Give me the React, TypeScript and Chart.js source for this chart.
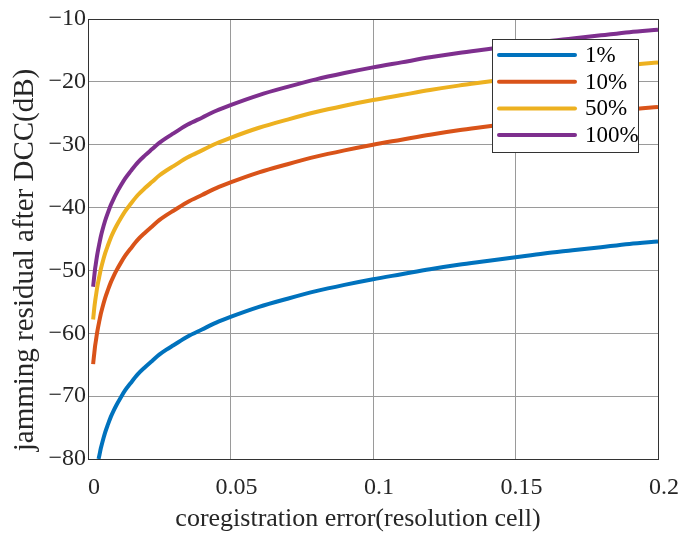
import React, { useEffect, useRef } from "react";
import { Chart, registerables } from "chart.js";

Chart.register(...registerables);

const seriesLabels = ["1%", "10%", "50%", "100%"];
const seriesColors = ["#0072BD", "#D95319", "#EDB120", "#7E2F8E"];

const xBlue = [0.0037, 0.004, 0.0045, 0.005, 0.006, 0.007, 0.008, 0.009, 0.01, 0.0115, 0.013, 0.015, 0.0175, 0.02, 0.0225, 0.025, 0.0275, 0.03, 0.035, 0.04, 0.045, 0.05, 0.06, 0.07, 0.08, 0.09, 0.1, 0.11, 0.12, 0.13, 0.14, 0.15, 0.16, 0.17, 0.18, 0.19, 0.2];
const yBlue = [-80.0, -79.4, -78.3, -77.4, -75.8, -74.5, -73.3, -72.3, -71.4, -70.2, -69.1, -67.9, -66.5, -65.4, -64.4, -63.4, -62.6, -61.9, -60.5, -59.4, -58.3, -57.4, -55.8, -54.5, -53.3, -52.3, -51.4, -50.6, -49.8, -49.1, -48.5, -47.9, -47.3, -46.8, -46.3, -45.8, -45.4];

const xOthers = [0.0018, 0.002, 0.0022, 0.0025, 0.0028, 0.0032, 0.0036, 0.004, 0.0045, 0.005, 0.006, 0.007, 0.008, 0.009, 0.01, 0.0115, 0.013, 0.015, 0.0175, 0.02, 0.0225, 0.025, 0.0275, 0.03, 0.035, 0.04, 0.045, 0.05, 0.06, 0.07, 0.08, 0.09, 0.1, 0.11, 0.12, 0.13, 0.14, 0.15, 0.16, 0.17, 0.18, 0.19, 0.2];
const yRed = [-64.9, -64.0, -63.2, -62.0, -61.1, -59.9, -58.9, -58.0, -56.9, -56.0, -54.4, -53.1, -51.9, -50.9, -50.0, -48.8, -47.7, -46.5, -45.1, -44.0, -43.0, -42.0, -41.2, -40.5, -39.1, -38.0, -36.9, -36.0, -34.4, -33.1, -31.9, -30.9, -30.0, -29.2, -28.4, -27.7, -27.1, -26.5, -25.9, -25.4, -24.9, -24.4, -24.0];
const yYellow = [-57.8, -56.9, -56.0, -54.9, -54.0, -52.8, -51.8, -50.9, -49.8, -48.9, -47.3, -46.0, -44.8, -43.8, -42.9, -41.7, -40.6, -39.4, -38.0, -36.9, -35.9, -34.9, -34.1, -33.4, -32.0, -30.9, -29.8, -28.9, -27.3, -26.0, -24.8, -23.8, -22.9, -22.1, -21.3, -20.6, -20.0, -19.4, -18.8, -18.3, -17.8, -17.3, -16.9];
const yPurple = [-52.6, -51.7, -50.9, -49.7, -48.8, -47.6, -46.6, -45.7, -44.6, -43.7, -42.1, -40.8, -39.6, -38.6, -37.7, -36.5, -35.4, -34.2, -32.8, -31.7, -30.7, -29.7, -28.9, -28.2, -26.8, -25.7, -24.6, -23.7, -22.1, -20.8, -19.6, -18.6, -17.7, -16.9, -16.1, -15.4, -14.8, -14.2, -13.6, -13.1, -12.6, -12.1, -11.7];

const xTickValues = [0, 0.05, 0.1, 0.15, 0.2];
const xTickLabels = ["0", "0.05", "0.1", "0.15", "0.2"];
const yTickValues = [-80, -70, -60, -50, -40, -30, -20, -10];
const yTickLabels = ["\u221280", "\u221270", "\u221260", "\u221250", "\u221240", "\u221230", "\u221220", "\u221210"];

const xTitle = "coregistration error(resolution cell)";
const yTitle = "jamming residual after DCC(dB)";

const FONT = "'Liberation Serif', 'Times New Roman', serif";
const TEXT_COLOR = "#262626";

function pts(xs: number[], ys: number[]) {
  return xs.map((x, i) => ({ x, y: ys[i] }));
}

const decorPlugin = {
  id: "decor",
  afterDatasetsDraw(chart: any) {
    const { ctx, chartArea } = chart;
    const { left, right, top, bottom } = chartArea;
    ctx.save();
    // box
    ctx.strokeStyle = "#333333";
    ctx.lineWidth = 1;
    ctx.strokeRect(Math.round(left) + 0.5, Math.round(top) + 0.5, Math.round(right - left), Math.round(bottom - top));

    // legend
    const lx = 492, ly = 39, lw = 146, lh = 113;
    ctx.fillStyle = "#ffffff";
    ctx.fillRect(lx, ly, lw, lh);
    ctx.strokeStyle = "#333333";
    ctx.lineWidth = 1;
    ctx.strokeRect(lx + 0.5, ly + 0.5, lw, lh);
    ctx.font = `23px ${FONT}`;
    ctx.textBaseline = "middle";
    ctx.textAlign = "left";
    chart.data.datasets.forEach((ds: any, i: number) => {
      const yy = ly + 16 + i * 26.7;
      ctx.strokeStyle = ds.borderColor;
      ctx.lineWidth = 4;
      ctx.lineCap = "round";
      ctx.beginPath();
      ctx.moveTo(lx + 7, yy);
      ctx.lineTo(lx + 83, yy);
      ctx.stroke();
      ctx.fillStyle = "#000000";
      ctx.fillText(ds.label, lx + 93, yy + 1);
    });

    // axis titles
    ctx.fillStyle = TEXT_COLOR;
    ctx.textAlign = "center";
    ctx.textBaseline = "middle";
    ctx.font = `26px ${FONT}`;
    ctx.fillText(xTitle, 358, 519);
    ctx.font = `29px ${FONT}`;
    ctx.translate(25, 260);
    ctx.rotate(-Math.PI / 2);
    ctx.fillText(yTitle, 0, 0);
    ctx.restore();
  },
};

export default function App() {
  const canvasRef = useRef<HTMLCanvasElement | null>(null);

  useEffect(() => {
    document.body.style.margin = "0";
    const canvas = canvasRef.current;
    if (!canvas) return;
    const datasets = [
      { label: seriesLabels[0], data: pts(xBlue, yBlue) },
      { label: seriesLabels[1], data: pts(xOthers, yRed) },
      { label: seriesLabels[2], data: pts(xOthers, yYellow) },
      { label: seriesLabels[3], data: pts(xOthers, yPurple) },
    ].map((d, i) => ({
      ...d,
      borderColor: seriesColors[i],
      backgroundColor: seriesColors[i],
      borderWidth: 4,
      pointRadius: 0,
      fill: false,
      cubicInterpolationMode: "monotone" as const,
    }));

    const chart = new Chart(canvas, {
      type: "line",
      data: { datasets },
      options: {
        animation: false,
        responsive: true,
        maintainAspectRatio: false,
        layout: { padding: { top: 19, right: 20, left: 0, bottom: 0 } },
        plugins: { legend: { display: false }, tooltip: { enabled: false } },
        scales: {
          x: {
            type: "linear",
            min: 0,
            max: 0.2,
            afterBuildTicks: (scale: any) => {
              scale.ticks = xTickValues.map((v) => ({ value: v }));
            },
            afterFit: (scale: any) => {
              scale.height = 75;
              scale.paddingLeft = 0;
              scale.paddingRight = 0;
            },
            ticks: {
              callback: (v: any) => {
                const idx = xTickValues.findIndex((t) => Math.abs(t - Number(v)) < 1e-9);
                return idx >= 0 ? xTickLabels[idx] : "";
              },
              font: { family: FONT, size: 24 },
              color: TEXT_COLOR,
              padding: 14,
              labelOffset: 6,
              maxRotation: 0,
              autoSkip: false,
            },
            grid: { color: "#9a9a9a", lineWidth: 1, drawTicks: false },
            border: { display: true, color: "#333333", width: 1 },
          },
          y: {
            type: "linear",
            min: -80,
            max: -10,
            afterBuildTicks: (scale: any) => {
              scale.ticks = yTickValues.map((v) => ({ value: v }));
            },
            afterFit: (scale: any) => {
              scale.width = 88;
              scale.paddingTop = 0;
              scale.paddingBottom = 0;
            },
            ticks: {
              callback: (v: any) => {
                const idx = yTickValues.findIndex((t) => Math.abs(t - Number(v)) < 1e-9);
                return idx >= 0 ? yTickLabels[idx] : "";
              },
              font: { family: FONT, size: 24 },
              color: TEXT_COLOR,
              padding: 2,
              autoSkip: false,
            },
            grid: { color: "#9a9a9a", lineWidth: 1, drawTicks: false },
            border: { display: true, color: "#333333", width: 1 },
          },
        },
      },
      plugins: [decorPlugin],
    });
    return () => chart.destroy();
  }, []);

  return (
    <div style={{ width: 678, height: 534, position: "relative", background: "#ffffff" }}>
      <canvas ref={canvasRef} />
    </div>
  );
}
